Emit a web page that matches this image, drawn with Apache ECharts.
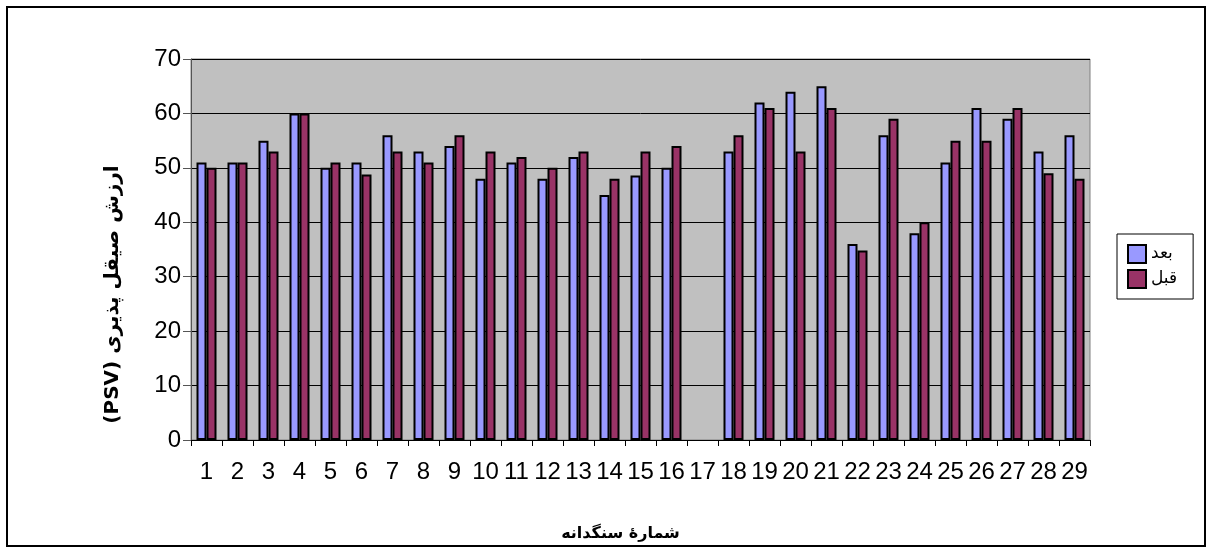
<!DOCTYPE html>
<html>
<head>
<meta charset="utf-8">
<script src="https://cdn.jsdelivr.net/npm/echarts@6/dist/echarts.min.js"></script>
<style>
html, body { margin: 0; padding: 0; background: #fff; }
#chart { width: 1207px; height: 547px; }
</style>
</head>
<body>
<div id="chart"></div>
<script>
// categories = sample numbers
var categories = ['1','2','3','4','5','6','7','8','9','10','11','12','13','14','15','16','17','18','19','20','21','22','23','24','25','26','27','28','29'];
// بعد (after)
var afterVals = [51, 51, 55, 60, 50, 51, 56, 53, 54, 48, 51, 48, 52, 45, 48.6, 50, null, 53, 62, 64, 65, 36, 56, 38, 51, 61, 59, 53, 56];
// قبل (before)
var beforeVals = [50, 51, 53, 60, 51, 48.8, 53, 51, 56, 53, 52, 50, 53, 48, 53, 54, null, 56, 61, 53, 61, 34.8, 59, 40, 55, 55, 61, 49, 48];
var yTicks = [0, 10, 20, 30, 40, 50, 60, 70];

var chart = echarts.init(document.getElementById('chart'));
var option = {
    animation: false,
    backgroundColor: '#fff',
    textStyle: { fontFamily: 'Liberation Sans, Arial, sans-serif' },
    graphic: [{
        type: 'rect',
        shape: { x: 7, y: 7, width: 1198, height: 539 },
        style: { fill: 'none', stroke: '#000', lineWidth: 2 },
        silent: true
    }],
    grid: {
        left: 191,
        right: 117,
        top: 59,
        bottom: 107,
        outerBoundsMode: 'none',
        show: true,
        backgroundColor: '#C0C0C0',
        borderColor: '#808080',
        borderWidth: 1
    },
    legend: {
        orient: 'vertical',
        left: 1117,
        top: 234,
        itemWidth: 18,
        itemHeight: 18,
        itemGap: 5,
        icon: 'rect',
        padding: [10, 16, 10, 10],
        borderColor: '#000',
        borderWidth: 1,
        textStyle: { fontFamily: 'DejaVu Sans', fontSize: 17, color: '#000' },
        data: ['بعد', 'قبل']
    },
    xAxis: {
        type: 'category',
        data: categories,
        name: 'شمارهٔ سنگدانه',
        nameLocation: 'middle',
        nameGap: 86,
        nameTextStyle: { fontFamily: 'DejaVu Sans', fontWeight: 'bold', fontSize: 16, color: '#000', padding: [0, 40, 0, 0] },
        axisLine: { lineStyle: { color: '#000', width: 1 } },
        axisTick: { show: true, length: 6, lineStyle: { color: '#000' } },
        axisLabel: { color: '#000', fontSize: 24, margin: 20, interval: 0 }
    },
    yAxis: {
        type: 'value',
        min: 0,
        max: 70,
        interval: 10,
        name: '(PSV) ارزش صیقل پذیری',
        nameLocation: 'middle',
        nameRotate: 90,
        nameGap: 68,
        nameTextStyle: { fontFamily: 'DejaVu Sans', fontWeight: 'bold', fontSize: 20, color: '#000', padding: [0, 90, 0, 0] },
        axisLine: { show: true, lineStyle: { color: '#555', width: 1 } },
        axisTick: { show: true, length: 8, lineStyle: { color: '#555' } },
        axisLabel: {
            color: '#000', fontSize: 24, margin: 10,
            formatter: function (v) { return yTicks.indexOf(v) >= 0 ? String(v) : ''; }
        },
        splitLine: { show: true, lineStyle: { color: '#000', width: 1 } }
    },
    series: [{
        name: 'بعد',
        type: 'bar',
        data: afterVals,
        barWidth: 10,
        barGap: '0%',
        itemStyle: { color: '#9999FF', borderColor: '#000', borderWidth: 2 }
    }, {
        name: 'قبل',
        type: 'bar',
        data: beforeVals,
        barWidth: 10,
        barGap: '0%',
        itemStyle: { color: '#993366', borderColor: '#000', borderWidth: 2 }
    }]
};
chart.setOption(option);
</script>
</body>
</html>
